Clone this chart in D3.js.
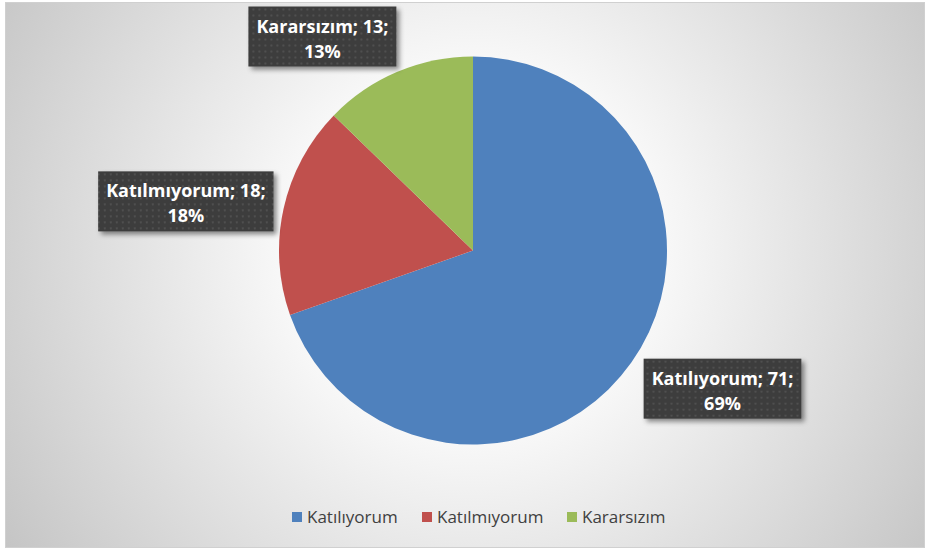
<!DOCTYPE html>
<html>
<head>
<meta charset="utf-8">
<script src="https://cdn.jsdelivr.net/npm/d3@7"></script>
<style>
  body { margin: 0; background: #fff; }
  svg { display: block; }
</style>
</head>
<body>
<div id="chart"></div>
<script>
// data
const categories = ["Katılıyorum", "Katılmıyorum", "Kararsızım"];
const values = [71, 18, 13];
const percents = ["69%", "18%", "13%"];
const colors = ["#4F81BD", "#C0504D", "#9BBB59"];
// nudge of each data label away from its outer-arc point
const labelNudge = [[43, -8], [-40, 5], [-52, 19]];

const width = 928;
const height = 550;
const cx = 473, cy = 250.5, radius = 194;

const svg = d3.select("#chart")
    .append("svg")
    .attr("width", width)
    .attr("height", height);

const defs = svg.append("defs");

// chart area background, white in the middle and grey at the corners
const bg = defs.append("radialGradient")
    .attr("id", "bgGrad")
    .attr("gradientUnits", "userSpaceOnUse")
    .attr("cx", cx).attr("cy", cy)
    .attr("r", 560);
bg.append("stop").attr("offset", "0%").attr("stop-color", "#ffffff");
bg.append("stop").attr("offset", "35%").attr("stop-color", "#f7f7f7");
bg.append("stop").attr("offset", "100%").attr("stop-color", "#c4c4c4");

// dotted dark fill for the labels
const pat = defs.append("pattern")
    .attr("id", "dots")
    .attr("patternUnits", "userSpaceOnUse")
    .attr("width", 6).attr("height", 6);
pat.append("rect").attr("width", 6).attr("height", 6).attr("fill", "#3d3d3d");
pat.append("rect").attr("x", 2).attr("y", 2).attr("width", 2).attr("height", 2).attr("fill", "#4f4f4f");

const shadow = defs.append("filter")
    .attr("id", "shadow")
    .attr("x", "-20%").attr("y", "-20%")
    .attr("width", "150%").attr("height", "160%");
shadow.append("feDropShadow")
    .attr("dx", 3).attr("dy", 3)
    .attr("stdDeviation", 2.5)
    .attr("flood-color", "#000")
    .attr("flood-opacity", 0.45);

svg.append("rect")
    .attr("x", 5.5).attr("y", 2.5)
    .attr("width", 919).attr("height", 545)
    .attr("fill", "url(#bgGrad)")
    .attr("stroke", "#d0d0d0");

const pie = d3.pie().sort(null).value(d => d);
const arcs = pie(values);

const arc = d3.arc().innerRadius(0).outerRadius(radius);
const outerArc = d3.arc().innerRadius(radius + 59).outerRadius(radius + 59);

const g = svg.append("g").attr("transform", `translate(${cx},${cy})`);

g.selectAll("path")
    .data(arcs)
    .enter()
    .append("path")
    .attr("d", arc)
    .attr("fill", (d, i) => colors[i]);

// data labels
const labels = g.selectAll("g.label")
    .data(arcs)
    .enter()
    .append("g")
    .attr("class", "label")
    .attr("transform", (d, i) => {
        const c = outerArc.centroid(d);
        return `translate(${c[0] + labelNudge[i][0]},${c[1] + labelNudge[i][1]})`;
    });

labels.each(function (d, i) {
    const lg = d3.select(this);
    const box = lg.append("rect")
        .attr("fill", "url(#dots)")
        .attr("filter", "url(#shadow)");
    const t = lg.append("text")
        .attr("text-anchor", "middle")
        .attr("fill", "#fff")
        .attr("font-family", "'Open Sans', Lato, sans-serif")
        .attr("font-weight", "bold")
        .attr("font-size", 18);
    t.append("tspan").attr("x", 0).attr("y", -4).text(`${categories[i]}; ${values[i]};`);
    t.append("tspan").attr("x", 0).attr("y", 21).text(percents[i]);
    const bb = t.node().getBBox();
    box.attr("x", bb.x - 8)
        .attr("y", -30)
        .attr("width", bb.width + 16)
        .attr("height", 60);
});

// legend
const legendX = [292, 422, 567];
const legend = svg.append("g").attr("transform", "translate(0,517)");
const items = legend.selectAll("g")
    .data(categories)
    .enter()
    .append("g")
    .attr("transform", (d, i) => `translate(${legendX[i]},0)`);
items.append("rect")
    .attr("x", 0).attr("y", -5)
    .attr("width", 10).attr("height", 10)
    .attr("fill", (d, i) => colors[i]);
items.append("text")
    .attr("x", 15)
    .attr("y", 6)
    .attr("fill", "#404040")
    .attr("font-family", "'Open Sans', Lato, sans-serif")
    .attr("font-size", 17)
    .text(d => d);
</script>
</body>
</html>
